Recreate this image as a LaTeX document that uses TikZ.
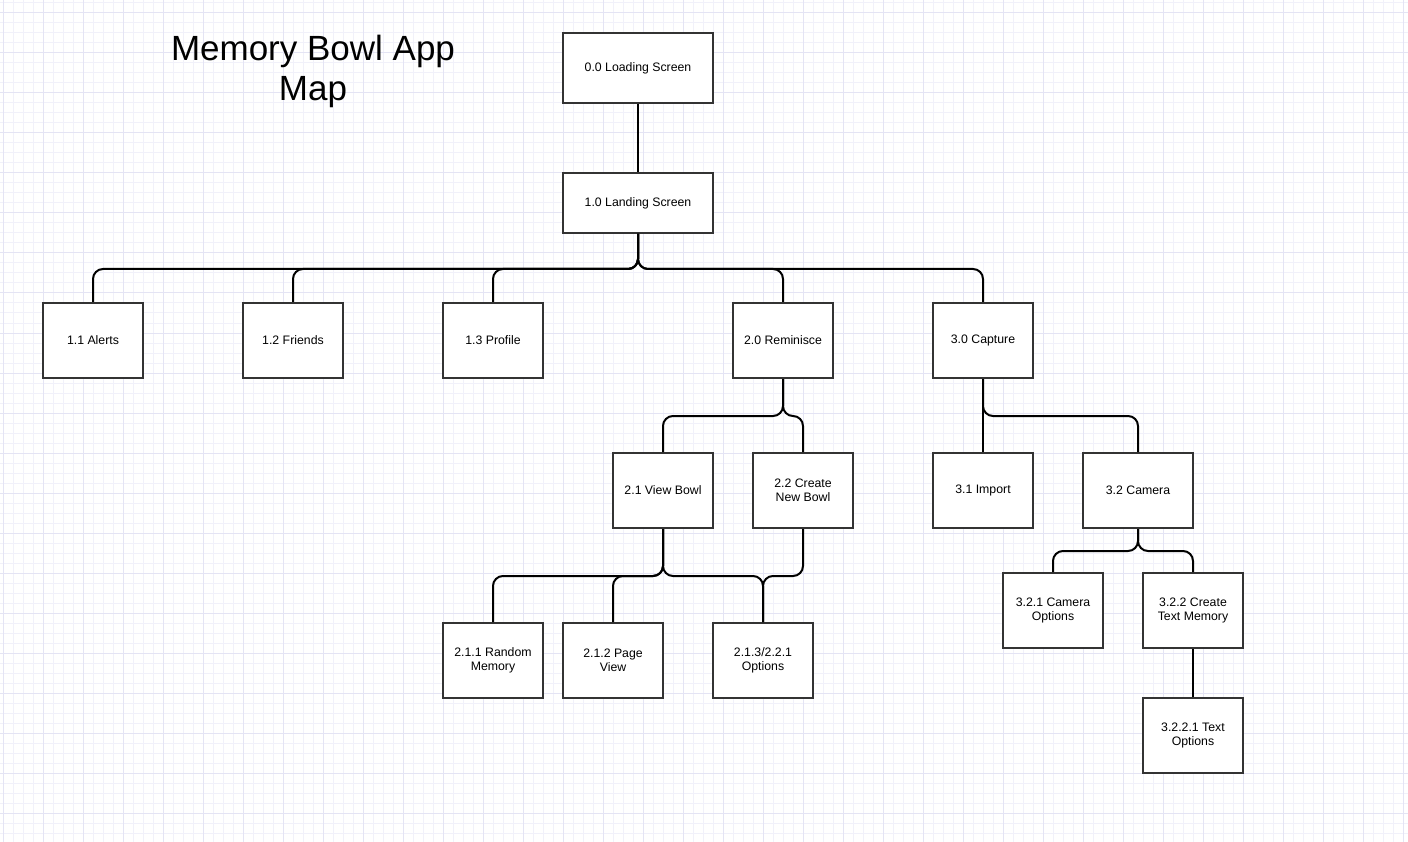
\documentclass[tikz,border=0pt]{standalone}
\usepackage{fontspec}
\setmainfont{Liberation Sans}
\definecolor{gridminor}{RGB}{241,241,250}
\definecolor{gridmajor}{RGB}{228,228,244}
\definecolor{boxline}{RGB}{51,51,51}
\begin{document}
\begin{tikzpicture}[x=1pt,y=-1pt,
  box/.style={draw=boxline,line width=2pt,fill=white,inner sep=0pt,align=center,
    font=\fontsize{12.3}{14}\selectfont,minimum width=100pt,minimum height=75pt},
  link/.style={line width=2pt,rounded corners=10pt}]
\useasboundingbox (0,0) rectangle (1408,842);
\fill[white] (0,0) rectangle (1408,842);
\foreach \x in {3,13,...,1403} \draw[gridminor,line width=1pt] (\x,0) -- (\x,842);
\foreach \y in {3,13,...,833} \draw[gridminor,line width=1pt] (0,\y) -- (1408,\y);
\foreach \x in {3,43,...,1403} \draw[gridmajor,line width=1pt] (\x,0) -- (\x,842);
\foreach \y in {13,53,...,813} \draw[gridmajor,line width=1pt] (0,\y) -- (1408,\y);

\node[font=\fontsize{35}{40}\selectfont,align=center] (title) at (313,71) {Memory Bowl App\\Map};

\node[box,minimum width=150pt,minimum height=70pt] (n00) at (638,68) {0.0 Loading Screen};
\node[box,minimum width=150pt,minimum height=60pt] (n10) at (638,203) {1.0 Landing Screen};
\node[box] (n11) at (93,340.5) {1.1 Alerts};
\node[box] (n12) at (293,340.5) {1.2 Friends};
\node[box] (n13) at (493,340.5) {1.3 Profile};
\node[box] (n20) at (783,340.5) {2.0 Reminisce};
\node[box] (n30) at (983,340.5) {3.0 Capture};
\node[box] (n21) at (663,490.5) {2.1 View Bowl};
\node[box] (n22) at (803,490.5) {2.2 Create\\New Bowl};
\node[box] (n31) at (983,490.5) {3.1 Import};
\node[box,minimum width=110pt] (n32) at (1138,490.5) {3.2 Camera};
\node[box] (n211) at (493,660.5) {2.1.1 Random\\Memory};
\node[box] (n212) at (613,660.5) {2.1.2 Page\\View};
\node[box] (n213) at (763,660.5) {2.1.3/2.2.1\\Options};
\node[box] (n321) at (1053,610.5) {3.2.1 Camera\\Options};
\node[box] (n322) at (1193,610.5) {3.2.2 Create\\Text Memory};
\node[box] (n3221) at (1193,735.5) {3.2.2.1 Text\\Options};

\draw[link] (n00.south) -- (n10.north);
\foreach \c in {n11,n12,n13,n20,n30}
  \draw[link] (n10.south) -- ++(0,35) -| (\c.north);
\foreach \c in {n21,n22}
  \draw[link] (n20.south) -- ++(0,37) -| (\c.north);
\draw[link] (n30.south) -- (n31.north);
\draw[link] (n30.south) -- ++(0,37) -| (n32.north);
\foreach \c in {n211,n212,n213}
  \draw[link] (n21.south) -- ++(0,47) -| (\c.north);
\draw[link] (n22.south) -- ++(0,47) -| (n213.north);
\foreach \c in {n321,n322}
  \draw[link] (n32.south) -- ++(0,22) -| (\c.north);
\draw[link] (n322.south) -- (n3221.north);
\end{tikzpicture}
\end{document}
